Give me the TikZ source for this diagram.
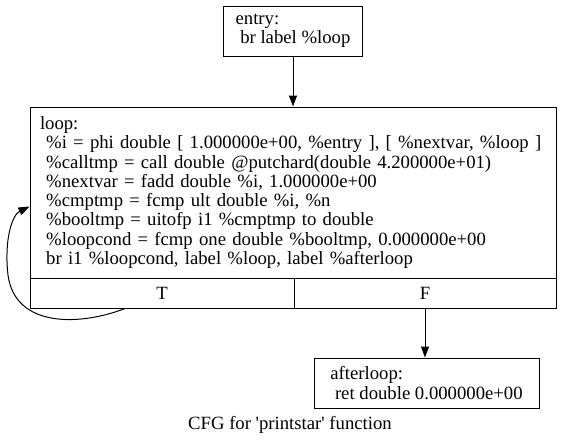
\documentclass[tikz,border=0pt]{standalone}
\usepackage{fontspec}
\setmainfont{Liberation Serif}
\usetikzlibrary{arrows.meta}
\begin{document}
\begin{tikzpicture}[x=1pt,y=-1pt,
  box/.style={draw,line width=1pt,inner sep=0pt,align=left,font=\fontsize{18.7}{19.3}\selectfont},
  cell/.style={draw,line width=1pt,inner sep=0pt,font=\fontsize{18.7}{19.3}\selectfont},
  edge/.style={line width=1pt,-{Triangle[length=11pt,width=8pt]}},
  captext/.style={font=\fontsize{18.7}{19.3}\selectfont}]
\useasboundingbox (0,0) rectangle (563,447);
\node[box,minimum width=139,minimum height=50] (entry) at (293,31) {entry:\\~br label \%loop};
\node[box,minimum width=526,minimum height=171,text width=506] (loop) at (293,192.5)
{loop:\\
~\%i = phi double [ 1.000000e+00, \%entry ], [ \%nextvar, \%loop ]\\
~\%calltmp = call double @putchard(double 4.200000e+01)\\
~\%nextvar = fadd double \%i, 1.000000e+00\\
~\%cmptmp = fcmp ult double \%i, \%n\\
~\%booltmp = uitofp i1 \%cmptmp to double\\
~\%loopcond = fcmp one double \%booltmp, 0.000000e+00\\
~br i1 \%loopcond, label \%loop, label \%afterloop};
\node[cell,minimum width=264,minimum height=30] (T) at (162,293) {T};
\node[cell,minimum width=262,minimum height=30] (F) at (425,293) {F};
\node[box,minimum width=225,minimum height=50] (after) at (426.5,383) {afterloop:\\~ret double 0.000000e+00};
\node[captext] (caption) at (290,425) {CFG for \textquotesingle printstar\textquotesingle\ function};
\coordinate (ls) at ([xshift=-37pt]T.south);
\coordinate (le) at ([yshift=-14pt]loop.west);
\draw[edge] (entry.south) -- (loop.north);
\draw[edge] (F.south) -- (F.south |- after.north);
\draw[edge] (ls) .. controls (80,326) and (15,328) .. (8,275) .. controls (4,240) and (12,215) .. (le);
\end{tikzpicture}
\end{document}
